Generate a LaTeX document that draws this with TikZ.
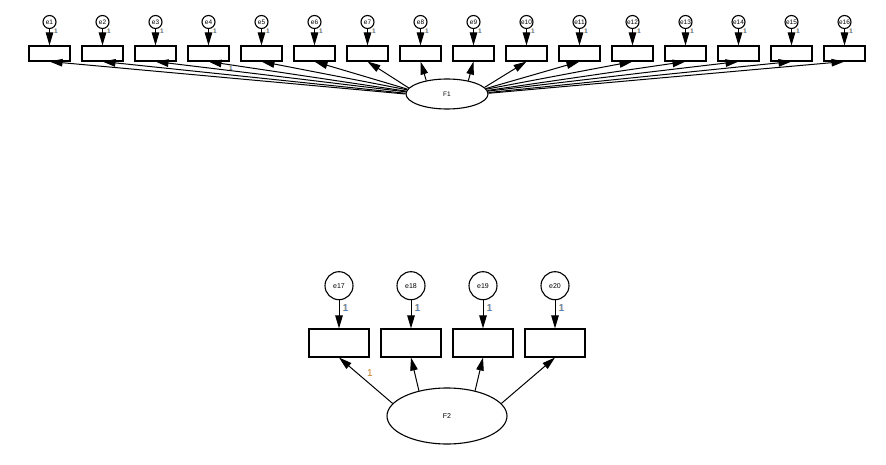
\documentclass[tikz,border=0pt]{standalone}
\usepackage{fontspec}
\setmainfont{Liberation Sans}
\usetikzlibrary{arrows.meta,shapes.geometric}
\definecolor{lblue}{RGB}{60,125,205}
\definecolor{lorange}{RGB}{195,125,35}
\newcommand{\oneL}{\rlap{\color{lorange}1}\hspace{0.6pt}{\color{lblue}1}}
\begin{document}
\begin{tikzpicture}[x=1pt,y=-1pt,
  obsT/.style={draw,line width=1.1pt,minimum width=41pt,minimum height=15pt,inner sep=0pt},
  obsB/.style={draw,line width=1.1pt,minimum width=60pt,minimum height=28pt,inner sep=0pt},
  errT/.style={draw,circle,line width=1.1pt,minimum size=13pt,inner sep=0pt,font=\fontsize{6.5}{7}\selectfont},
  errB/.style={draw,circle,line width=1.1pt,minimum size=28pt,inner sep=0pt,font=\fontsize{7}{8}\selectfont},
  latT/.style={draw,ellipse,line width=1.1pt,minimum width=82pt,minimum height=30pt,inner sep=0pt,font=\fontsize{6.5}{7}\selectfont},
  latB/.style={draw,ellipse,line width=1.1pt,minimum width=120pt,minimum height=56pt,inner sep=0pt,font=\fontsize{7}{8}\selectfont},
  arr/.style={-{Triangle[length=13pt,width=7.5pt]},line width=1pt},
  lblT/.style={inner sep=0pt,font=\fontsize{6.5}{7}\selectfont},
  lblB/.style={inner sep=0pt,font=\fontsize{10}{11}\selectfont}]
\useasboundingbox (0,0) rectangle (886,465);
% top model
\node[latT] (F1) at (447,94) {F1};
\foreach \i in {1,...,16}{
  \pgfmathsetmacro{\xx}{49.5+53*(\i-1)}
  \node[obsT] (b\i) at (\xx,53.5) {};
  \node[errT] (e\i) at (\xx,22) {e\i};
  \draw[arr] (e\i) -- (b\i.north);
  \node[lblT] (l\i) at (\xx+6.5,31) {\oneL};
}
\foreach \i in {1,...,7}{
  \draw[arr] (F1.{182-\i*1.5}) -- (b\i.south);
}
\draw[arr] (F1.147.5) -- (b8.south);
\draw[arr] (F1.32.5) -- (b9.south);
\foreach \i in {10,...,16}{
  \draw[arr] (F1.{10-(\i-10)*1.5}) -- (b\i.south);
}
\node[lblT] (w4) at (231,68) {\oneL};
% bottom model
\node[latB] (F2) at (447,416) {F2};
\foreach \i/\k in {17/0,18/1,19/2,20/3}{
  \pgfmathsetmacro{\xx}{339+72*\k}
  \node[obsB] (b\i) at (\xx,343) {};
  \node[errB] (e\i) at (\xx,285.7) {e\i};
  \draw[arr] (e\i) -- (b\i.north);
  \node[lblB] (l\i) at (\xx+6.5,308) {\oneL};
}
\draw[arr] (F2.167) -- (b17.south);
\draw[arr] (F2.138) -- (b18.south);
\draw[arr] (F2.42) -- (b19.south);
\draw[arr] (F2.13) -- (b20.south);
\node[lblB] (w17) at (370,373.5) {\color{lorange}1};
\end{tikzpicture}
\end{document}
